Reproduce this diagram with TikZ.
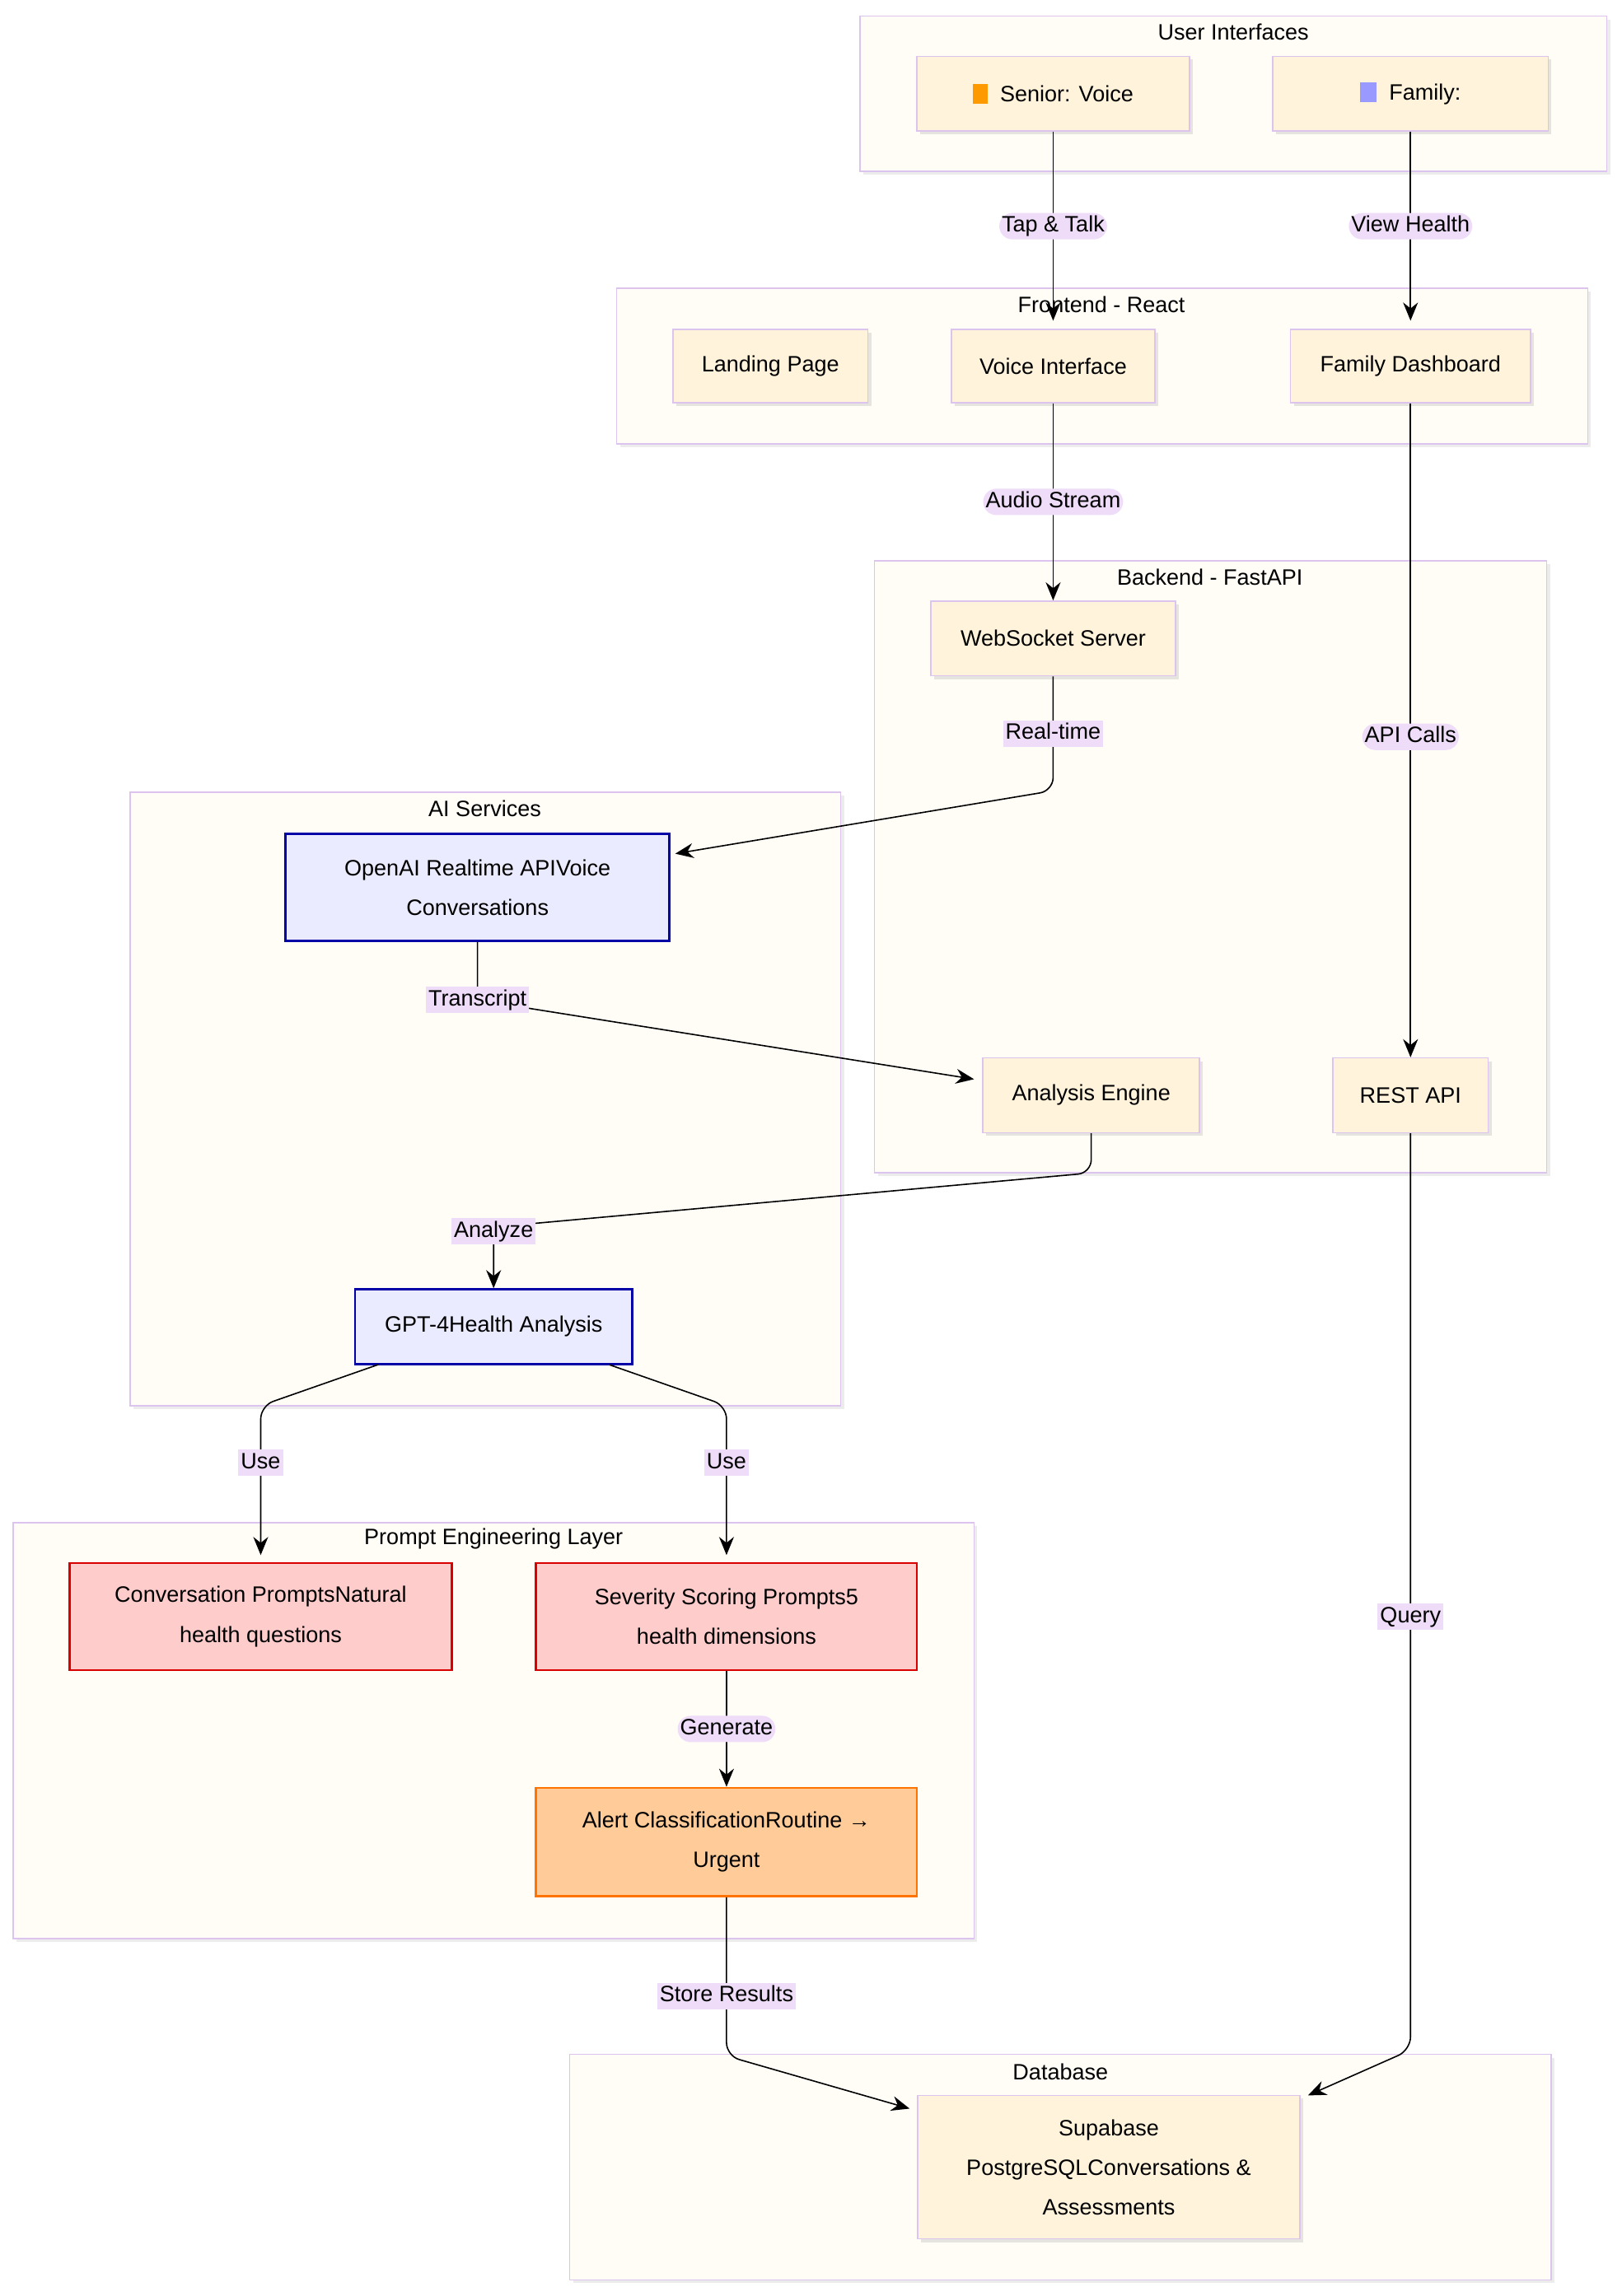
\documentclass[tikz,border=0pt]{standalone}
\usepackage{fontspec}
\setmainfont{Liberation Sans}
\usetikzlibrary{arrows.meta,shadows,calc}
\definecolor{nodefill}{HTML}{FFF3DC}
\definecolor{nodeline}{HTML}{DCC4EE}
\definecolor{clfill}{HTML}{FFFDF6}
\definecolor{lblfill}{HTML}{EEDCF8}
\begin{document}
\begin{tikzpicture}[x=0.888pt,y=-0.888pt,
  font=\fontsize{13.5}{24}\selectfont,
  cl/.style={draw=nodeline,fill=clfill,line width=0.8pt,drop shadow={shadow xshift=2pt,shadow yshift=-2pt,opacity=0.15}},
  tt/.style={font=\fontsize{13.5}{16}\selectfont},
  nd/.style={draw=nodeline,fill=nodefill,line width=0.8pt,align=center,inner sep=0pt,drop shadow={shadow xshift=2pt,shadow yshift=-2pt,opacity=0.2}},
  bl/.style={draw=blue!65!black,fill=blue!8,line width=1.3pt,align=center,inner sep=0pt},
  rd/.style={draw=red!85!black,fill=red!20,line width=1.3pt,align=center,inner sep=0pt},
  og/.style={draw=orange!90!red,fill=orange!40,line width=1.3pt,align=center,inner sep=0pt},
  ar/.style={-{Stealth[length=11pt,width=9pt]},line width=0.8pt,rounded corners=8pt},
  lb/.style={fill=lblfill,inner sep=1.5pt,text height=10pt,text depth=3pt}]
\useasboundingbox (0,0) rectangle (1107,1568);
\fill[white] (0,0) rectangle (1107,1568);
% clusters
\draw[cl] (587,11) rectangle (1097,117);
\node[tt] (tui) at (842,22) {User Interfaces};
\draw[cl] (421,197) rectangle (1084,303);
\node[tt] (tfe) at (752,208) {Frontend - React};
\draw[cl] (597,383) rectangle (1056,801);
\node[tt] (tbe) at (826,394) {Backend - FastAPI};
\draw[cl] (89,541) rectangle (574,960);
\node[tt] (tai) at (331,552) {AI Services};
\draw[cl] (9,1040) rectangle (665,1324);
\node[tt] (tpe) at (337,1051) {Prompt Engineering Layer};
\draw[cl] (389,1403) rectangle (1059,1557);
\node[tt] (tdb) at (724,1415) {Database};
% nodes
\node[nd,minimum width=186*0.888pt,minimum height=51*0.888pt] (sen) at (719,64) {\textcolor{orange!80!yellow}{\rule[-1pt]{9pt}{12pt}}\ \ Senior: Voice};
\node[nd,minimum width=188*0.888pt,minimum height=51*0.888pt] (fam) at (963,64) {\textcolor{blue!40}{\rule[-1pt]{10pt}{12pt}}\ \ Family:};
\node[nd,minimum width=133*0.888pt,minimum height=50*0.888pt] (land) at (526,250) {Landing Page};
\node[nd,minimum width=139*0.888pt,minimum height=50*0.888pt] (voice) at (719,250) {Voice Interface};
\node[nd,minimum width=164*0.888pt,minimum height=50*0.888pt] (fd) at (963,250) {Family Dashboard};
\node[nd,minimum width=167*0.888pt,minimum height=51*0.888pt] (ws) at (719,436) {WebSocket Server};
\node[nd,minimum width=148*0.888pt,minimum height=51*0.888pt] (ae) at (745,748) {Analysis Engine};
\node[nd,minimum width=106*0.888pt,minimum height=51*0.888pt] (rest) at (963,748) {REST API};
\node[bl,minimum width=262*0.888pt,minimum height=73*0.888pt] (oai) at (326,606) {OpenAI Realtime APIVoice\\Conversations};
\node[bl,minimum width=189*0.888pt,minimum height=51*0.888pt] (gpt) at (337,906) {GPT-4Health Analysis};
\node[rd,minimum width=261*0.888pt,minimum height=73*0.888pt] (conv) at (178,1104) {Conversation PromptsNatural\\health questions};
\node[rd,minimum width=260*0.888pt,minimum height=73*0.888pt] (sev) at (496,1104) {Severity Scoring Prompts5\\health dimensions};
\node[og,minimum width=260*0.888pt,minimum height=74*0.888pt] (alert) at (496,1258) {Alert ClassificationRoutine →\\Urgent};
\node[nd,minimum width=261*0.888pt,minimum height=98*0.888pt] (sup) at (757,1480) {Supabase\\PostgreSQLConversations \&\\Assessments};
% edges
\draw[ar] (sen.south) -- (719,219) node[lb,pos=0.5] {Tap \& Talk};
\draw[ar] (fam.south) -- (963,219) node[lb,pos=0.5] {View Health};
\draw[ar] (voice.south) -- (ws.north) node[lb,midway] {Audio Stream};
\draw[ar] (fd.south) -- (rest.north) node[lb,pos=0.51] {API Calls};
\draw[ar] (ws.south) -- (719,540) -- (461,583);
\node[lb] at (719,501) {Real-time};
\draw[ar] (oai.south) -- (326,683) -- (665,737);
\node[lb] at (326,683) {Transcript};
\draw[ar] (ae.south) -- (745,801) -- (337,838) -- (gpt.north);
\node[lb] at (337,841) {Analyze};
\draw[ar] (258,932) -- (178,960) -- (178,1062);
\node[lb] at (178,999) {Use};
\draw[ar] (416,932) -- (496,960) -- (496,1062);
\node[lb] at (496,999) {Use};
\draw[ar] (sev.south) -- (alert.north) node[lb,midway] {Generate};
\draw[ar] (alert.south) -- (496,1404) -- (621,1440);
\node[lb] at (496,1363) {Store Results};
\draw[ar] (rest.south) -- (963,1400) -- (893,1431);
\node[lb] at (963,1104) {Query};
\end{tikzpicture}
\end{document}
